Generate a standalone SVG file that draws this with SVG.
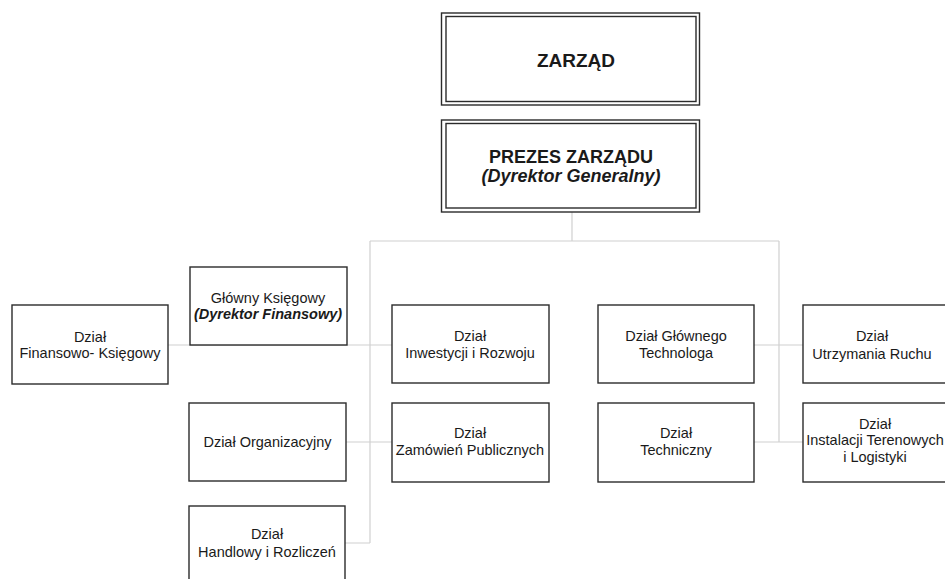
<svg xmlns="http://www.w3.org/2000/svg" width="945" height="579" viewBox="0 0 945 579">
<style>
.box{fill:#fff;stroke:#2b2b2b;stroke-width:1.4}
.dbl{fill:none;stroke:#2b2b2b;stroke-width:1.4}
.con{fill:none;stroke:#d0d0d0;stroke-width:1.2}
text{font-family:"Liberation Sans",Arial,sans-serif;font-size:14.5px;fill:#1a1a1a;text-anchor:middle}
.b{font-weight:bold;font-size:18px}
.bi{font-weight:bold;font-style:italic}
</style>
<rect width="945" height="579" fill="#fff"/>
<g id="connectors">
<path class="con" d="M572 212V241M370 241H779M370 241V543M779 241V442M168 345H392M346 442H392M345 543H370M754 345H803M754 442H803"/>
</g>
<g id="zarzad">
<rect class="box" x="441.5" y="13" width="258" height="92"/>
<rect class="dbl" x="446" y="16.5" width="250" height="85"/>
<text class="b" x="576" y="67" style="font-size:19px">ZARZĄD</text>
</g>
<g id="prezes">
<rect class="box" x="441.5" y="120" width="258" height="92"/>
<rect class="dbl" x="446" y="123.5" width="250" height="84.5"/>
<text class="b" x="571" y="163">PREZES ZARZĄDU</text>
<text class="b bi" x="571" y="182">(Dyrektor Generalny)</text>
</g>
<g id="finansowo">
<rect class="box" x="12" y="305" width="156" height="79"/>
<text x="90" y="342">Dział</text>
<text x="90" y="358">Finansowo- Księgowy</text>
</g>
<g id="glowny-ksiegowy">
<rect class="box" x="190" y="267" width="157" height="78"/>
<text x="268" y="303">Główny Księgowy</text>
<text class="bi" x="268" y="319">(Dyrektor Finansowy)</text>
</g>
<g id="organizacyjny">
<rect class="box" x="189" y="403" width="157" height="78"/>
<text x="267.5" y="447">Dział Organizacyjny</text>
</g>
<g id="handlowy">
<rect class="box" x="189" y="506" width="156" height="90"/>
<text x="267" y="539">Dział</text>
<text x="267" y="557">Handlowy i Rozliczeń</text>
</g>
<g id="inwestycji">
<rect class="box" x="392" y="305" width="157" height="78"/>
<text x="470" y="341">Dział</text>
<text x="470" y="357.5">Inwestycji i Rozwoju</text>
</g>
<g id="zamowien">
<rect class="box" x="392" y="403" width="157" height="79"/>
<text x="470" y="438">Dział</text>
<text x="470" y="455">Zamówień Publicznych</text>
</g>
<g id="technologa">
<rect class="box" x="598" y="305" width="156" height="78"/>
<text x="676" y="341">Dział Głównego</text>
<text x="676" y="357.5">Technologa</text>
</g>
<g id="techniczny">
<rect class="box" x="598" y="403" width="156" height="79"/>
<text x="676" y="438">Dział</text>
<text x="676" y="455">Techniczny</text>
</g>
<g id="utrzymania">
<rect class="box" x="803" y="305" width="160" height="78"/>
<text x="872" y="341">Dział</text>
<text x="872" y="358.5">Utrzymania Ruchu</text>
</g>
<g id="instalacji">
<rect class="box" x="803" y="403" width="160" height="79"/>
<text x="875" y="429">Dział</text>
<text x="875" y="445">Instalacji Terenowych</text>
<text x="875" y="462">i Logistyki</text>
</g>
</svg>
